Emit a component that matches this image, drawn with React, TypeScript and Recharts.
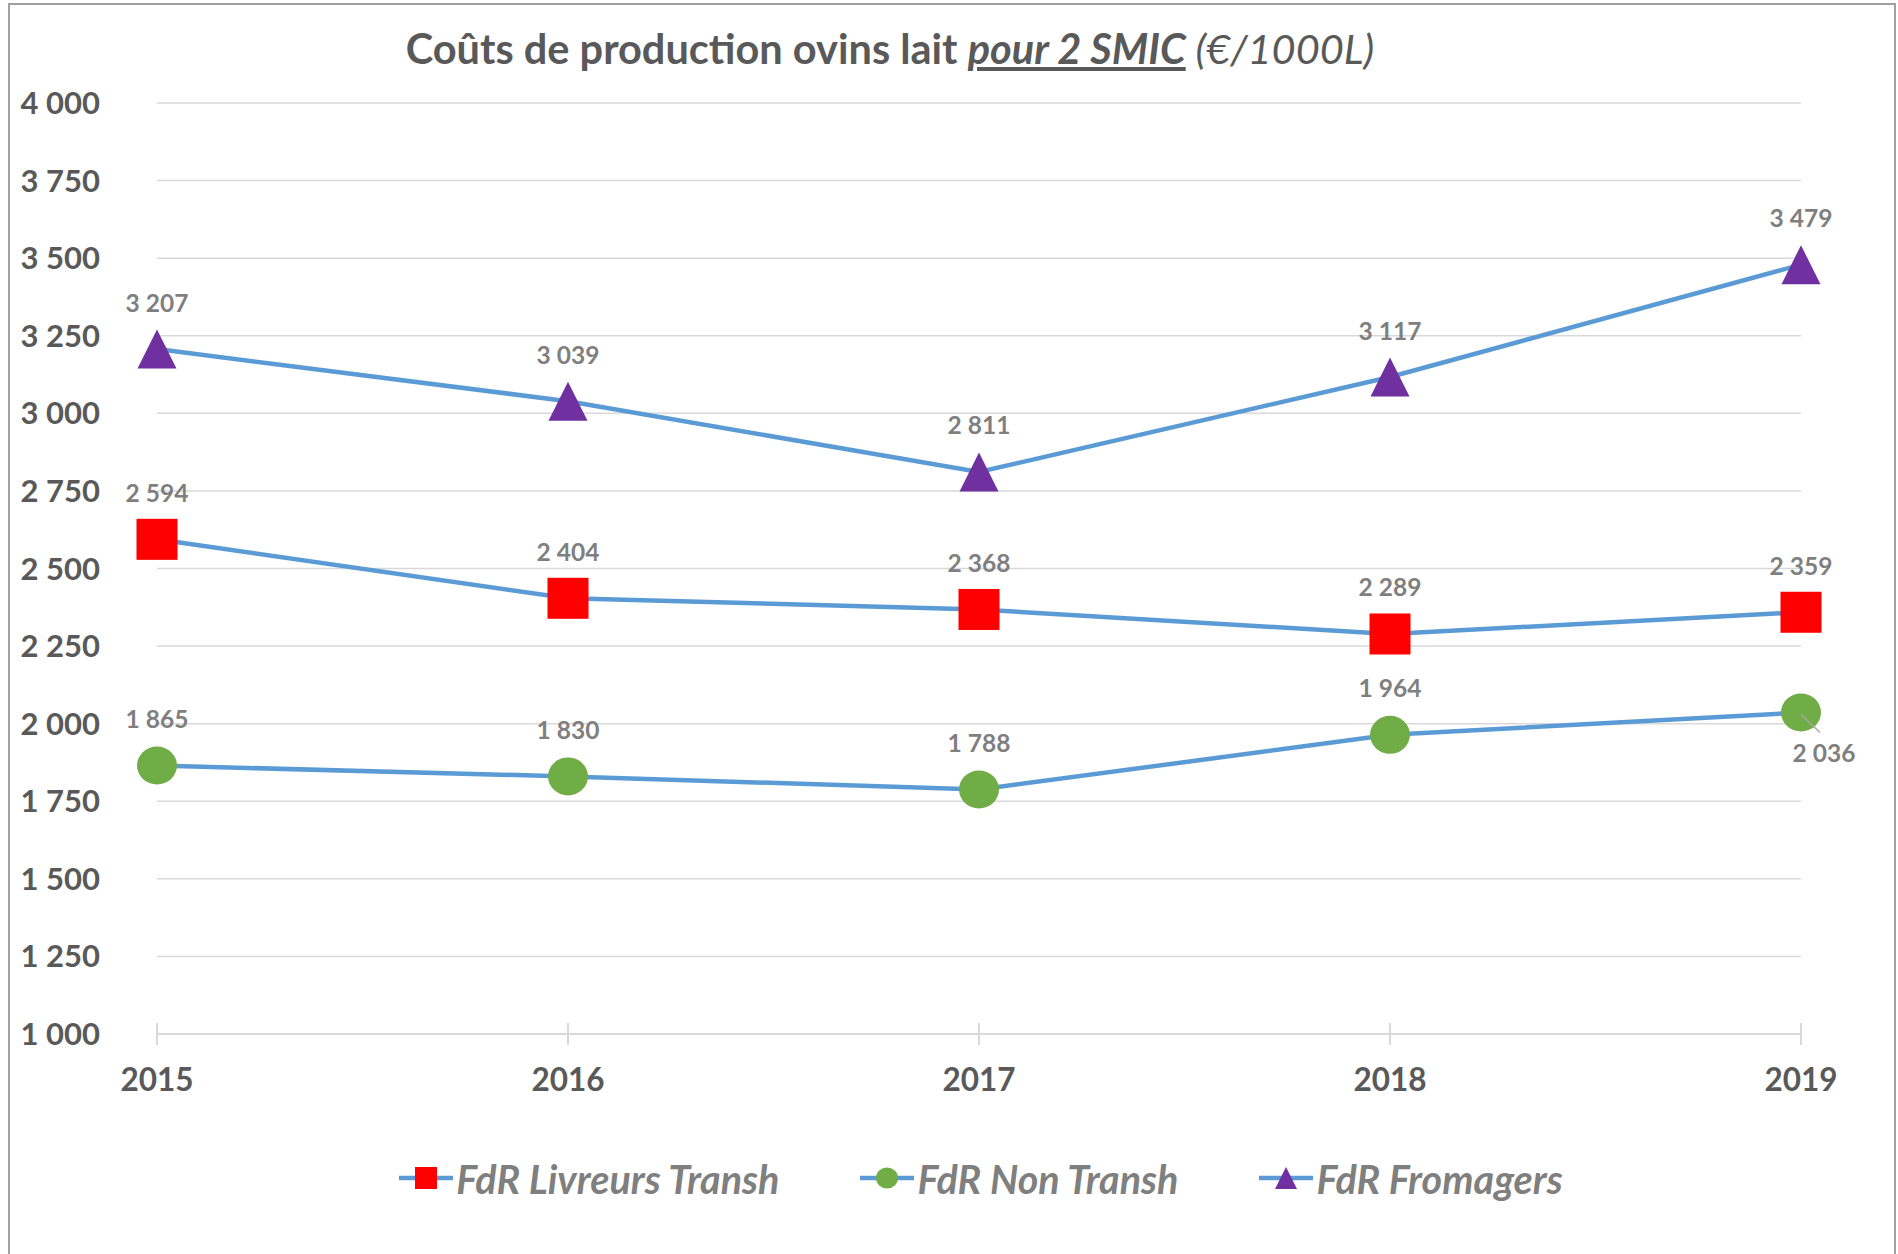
import { LineChart, Line, XAxis, YAxis, CartesianGrid, Legend, LabelList } from 'recharts'

const years = ['2015', '2016', '2017', '2018', '2019']
const livreursTransh = [2594, 2404, 2368, 2289, 2359]
const nonTransh = [1865, 1830, 1788, 1964, 2036]
const fromagers = [3207, 3039, 2811, 3117, 3479]
const yTicks = [1000, 1250, 1500, 1750, 2000, 2250, 2500, 2750, 3000, 3250, 3500, 3750, 4000]

const data = years.map((year, i) => ({
  year,
  livreurs: livreursTransh[i],
  non: nonTransh[i],
  fromagers: fromagers[i],
}))

const LINE = '#5b9bd5'
const GRID = '#d9d9d9'
const AXIS_TEXT = '#595959'
const LABEL_TEXT = '#7f7f7f'
const FONT = 'Lato, "Open Sans", sans-serif'

type Shape = 'square' | 'circle' | 'triangle'

const series: { key: 'livreurs' | 'non' | 'fromagers'; name: string; shape: Shape; color: string }[] = [
  { key: 'livreurs', name: 'FdR Livreurs Transh', shape: 'square', color: '#ff0000' },
  { key: 'non', name: 'FdR Non Transh', shape: 'circle', color: '#70ad47' },
  { key: 'fromagers', name: 'FdR Fromagers', shape: 'triangle', color: '#7030a0' },
]

const fmt = (n: number) => String(n).replace(/\B(?=(\d{3})+(?!\d))/g, ' ')

function Marker({ shape, cx, cy, size, color }: { shape: Shape; cx: number; cy: number; size: number; color: string }) {
  const h = size / 2
  if (shape === 'square') return <rect x={cx - h} y={cy - h} width={size} height={size} fill={color} />
  if (shape === 'circle') return <ellipse cx={cx} cy={cy} rx={h} ry={h * 0.95} fill={color} />
  return <polygon points={`${cx},${cy - h} ${cx + h},${cy + h} ${cx - h},${cy + h}`} fill={color} />
}

function XTick(props: any) {
  const { x, y, payload } = props
  return (
    <g>
      <line x1={x} x2={x} y1={y - 11} y2={y + 11} stroke={GRID} strokeWidth={2} />
      <text x={x} y={y + 45} textAnchor="middle" dominantBaseline="central"
        fill={AXIS_TEXT} fontSize={31.5} fontWeight={700} fontFamily={FONT}>
        {payload.value}
      </text>
    </g>
  )
}

function LegendContent() {
  return (
    <div style={{ display: 'flex', justifyContent: 'center', alignItems: 'center', height: 100, paddingLeft: 161, gap: 81 }}>
      {series.map(s => (
        <div key={s.key} style={{ display: 'flex', alignItems: 'center' }}>
          <svg width={54} height={30}>
            <line x1={0} x2={54} y1={15} y2={15} stroke={LINE} strokeWidth={4.5} />
            <Marker shape={s.shape} cx={27} cy={15} size={22} color={s.color} />
          </svg>
          <span style={{ marginLeft: 3, fontFamily: FONT, fontSize: 39.5, fontWeight: 700, fontStyle: 'italic', color: LABEL_TEXT }}>
            {s.name}
          </span>
        </div>
      ))}
    </div>
  )
}

function makeLabel(key: string) {
  return (props: any) => {
    const { x, y, value, index } = props
    if (key === 'non' && index === years.length - 1) {
      return (
        <g>
          <line x1={x} y1={y + 2} x2={x + 19} y2={y + 20} stroke="#a6a6a6" strokeWidth={1.5} />
          <text x={x + 23} y={y + 40} textAnchor="middle" dominantBaseline="central"
            fill={LABEL_TEXT} fontSize={24.5} fontWeight={700} fontFamily={FONT}>
            {fmt(Number(value))}
          </text>
        </g>
      )
    }
    return (
      <text x={x} y={y - 47} textAnchor="middle" dominantBaseline="central"
        fill={LABEL_TEXT} fontSize={24.5} fontWeight={700} fontFamily={FONT}>
        {fmt(Number(value))}
      </text>
    )
  }
}

export default function App() {
  return (
    <div style={{ position: 'absolute', left: 0, top: 0, width: 1898, height: 1254, background: '#fff', overflow: 'hidden' }}>
      <div style={{ position: 'absolute', left: 8, top: 3, width: 1884, height: 1300, border: '2px solid #a0a0a0' }} />
      <div style={{
        position: 'absolute', left: 0, top: 25, width: 1780, textAlign: 'center',
        fontFamily: FONT, fontSize: 41.5, lineHeight: '46px', color: AXIS_TEXT, whiteSpace: 'nowrap',
      }}>
        <span style={{ fontWeight: 700 }}>Coûts de production ovins lait </span>
        <span style={{ fontWeight: 700, fontStyle: 'italic', textDecoration: 'underline' }}>pour 2 SMIC</span>
        <span style={{ fontStyle: 'italic' }}> (€/1000L)</span>
      </div>
      <div style={{ position: 'absolute', left: 0, top: 0 }}>
        <LineChart width={1898} height={1254} data={data} margin={{ top: 103, right: 97, bottom: 26, left: 0 }}>
          <CartesianGrid vertical={false} stroke={GRID} strokeWidth={1.5} />
          <XAxis dataKey="year" height={94} axisLine={{ stroke: GRID, strokeWidth: 2 }} tickLine={false}
            tickSize={0} tickMargin={0} tick={<XTick />} interval={0} />
          <YAxis domain={[1000, 4000]} ticks={yTicks} width={157} axisLine={false} tickLine={false}
            tickSize={0} tickMargin={57} tickFormatter={(v: number) => fmt(v)}
            tick={{ fill: AXIS_TEXT, fontSize: 31, fontWeight: 700, fontFamily: FONT }} />
          <Legend verticalAlign="bottom" height={100} content={() => <LegendContent />} />
          {series.map(s => (
            <Line key={s.key} dataKey={s.key} name={s.name} stroke={LINE} strokeWidth={4.5} isAnimationActive={false}
              dot={(p: any) => (
                <Marker key={`${s.key}-${p.index}`} shape={s.shape} cx={p.cx} cy={p.cy}
                  size={s.shape === 'circle' ? 40 : s.shape === 'square' ? 41 : 39} color={s.color} />
              )}
              activeDot={false}>
              <LabelList dataKey={s.key} content={makeLabel(s.key)} />
            </Line>
          ))}
        </LineChart>
      </div>
    </div>
  )
}
